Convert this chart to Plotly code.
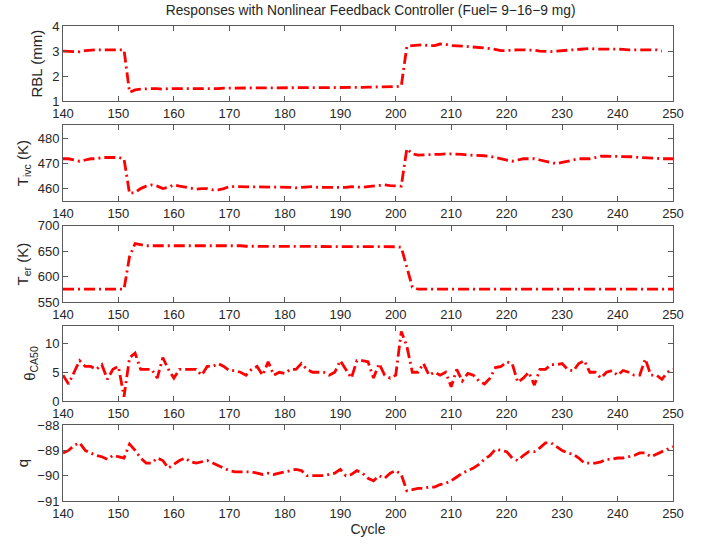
import plotly.graph_objects as go

cycles = list(range(140, 251))

rbl = [3.00, 3.00, 2.97, 2.97, 3.02, 3.05, 3.05, 3.05, 3.05, 3.05, 3.05, 3.05,
       1.35, 1.45, 1.48, 1.50, 1.50, 1.50, 1.48, 1.50, 1.50, 1.48, 1.47, 1.47, 1.47, 1.48, 1.48, 1.47,
       1.50, 1.52, 1.52, 1.52, 1.52, 1.52, 1.52, 1.53, 1.53, 1.53, 1.53, 1.53, 1.53, 1.53, 1.53, 1.53,
       1.54, 1.54, 1.55, 1.55, 1.55, 1.55, 1.55, 1.55, 1.55, 1.55, 1.55, 1.56, 1.56, 1.58, 1.58, 1.58, 1.58,
       1.60, 3.18, 3.22, 3.25, 3.25, 3.22, 3.22, 3.28, 3.27, 3.22, 3.22, 3.20, 3.18, 3.15, 3.15, 3.12,
       3.10, 3.05, 3.02, 3.02, 3.05, 3.05, 3.05, 3.05, 3.03, 3.00, 2.98, 2.98, 3.00, 3.02, 3.02, 3.05,
       3.07, 3.08, 3.10, 3.08, 3.08, 3.10, 3.08, 3.07, 3.07, 3.05, 3.05, 3.05, 3.05, 3.05, 3.05, 3.00]

tivc = [472.0, 472.0, 471.5, 471.0, 471.5, 472.0, 472.0, 472.5, 472.5, 472.5, 472.5, 472.0,
        458.0, 458.5, 460.0, 461.0, 461.5, 461.0, 460.0, 460.5, 461.5, 461.0, 460.5, 460.0, 459.8,
        460.0, 460.0, 459.5, 459.5, 460.0, 460.8, 460.8, 460.8, 460.5, 460.5, 460.5, 460.5, 460.8,
        460.5, 460.5, 460.5, 460.5, 460.3, 460.5, 460.8, 460.8, 460.5, 460.5, 460.5, 460.3, 460.5,
        460.5, 460.8, 460.5, 460.5, 460.8, 461.0, 461.2, 461.5, 461.2, 461.0,
        461.0, 476.0, 474.0, 473.5, 473.5, 473.5, 473.5, 473.8, 474.0, 474.0, 474.0, 473.8, 473.5,
        473.5, 473.5, 473.2, 473.0, 472.5, 472.0, 471.5, 471.0, 471.5, 472.0, 472.0, 472.0, 471.5,
        471.0, 470.5, 470.0, 470.5, 471.0, 471.5, 472.0, 472.0, 472.0, 472.5, 473.0, 473.0, 473.0,
        473.0, 472.8, 472.8, 472.8, 472.5, 472.5, 472.5, 472.2, 472.0, 472.0, 472.0, 472.0]

ter = [576, 576, 575, 575, 575, 575, 575, 576, 576, 576, 576, 576,
       640, 665, 663, 661, 661, 661, 661, 661, 661, 661, 662, 662, 662, 661, 661, 661, 662, 662,
       661, 661, 661, 660, 660, 660, 660, 660, 660, 660, 660, 660, 660, 660, 660, 660, 660, 660,
       660, 660, 660, 660, 660, 660, 660, 660, 660, 660, 660, 659, 659,
       658, 620, 580, 576, 576, 576, 576, 576, 576, 576, 576, 576, 576, 576, 576, 576, 576, 576,
       575, 575, 575, 575, 575, 575, 575, 575, 575, 575, 575, 575, 575, 575, 575, 575, 575, 575,
       576, 576, 576, 576, 576, 576, 576, 576, 576, 576, 576, 576, 576, 576, 576]

ca50 = [4.5, 3.0, 5.0, 7.0, 6.0, 6.0, 5.5, 6.3, 3.8, 5.5, 6.0, 0.8,
        7.5, 8.3, 5.5, 5.5, 5.5, 4.0, 7.5, 5.5, 4.0, 5.5, 5.5, 5.5, 5.5, 4.5, 6.0, 6.0, 6.5, 6.0,
        5.3, 5.3, 5.0, 4.5, 5.5, 6.0, 4.5, 6.8, 4.5, 5.0, 4.8, 5.5, 5.5, 6.5, 5.5, 5.0, 5.0, 5.0,
        4.5, 5.0, 7.0, 5.5, 4.0, 7.0, 7.0, 6.8, 4.0, 6.5, 4.5, 4.0, 4.5,
        12.0, 9.5, 5.0, 5.0, 6.5, 4.5, 5.0, 4.5, 5.0, 2.5, 5.5, 3.5, 4.8, 4.5, 3.5, 3.0, 4.0, 5.8,
        6.0, 6.8, 6.5, 3.3, 4.0, 5.0, 2.8, 5.5, 5.5, 6.3, 6.3, 6.5, 5.5, 5.2, 6.5, 7.0, 5.0, 5.0,
        4.0, 5.0, 5.3, 4.5, 5.3, 5.0, 4.5, 4.5, 7.3, 4.5, 4.5, 3.8, 5.0, 5.5]

q = [-89.10, -89.00, -88.80, -88.70, -89.00, -89.10, -89.20, -89.25, -89.35, -89.20, -89.25, -89.30,
     -88.75, -89.00, -89.30, -89.50, -89.50, -89.30, -89.40, -89.70, -89.55, -89.40, -89.30, -89.45,
     -89.50, -89.45, -89.40, -89.50, -89.60, -89.70, -89.80, -89.85, -89.85, -89.85, -89.85, -89.90,
     -89.95, -89.90, -89.95, -89.90, -89.85, -89.80, -89.75, -89.80, -90.00, -90.00, -90.00, -90.00,
     -89.95, -89.90, -89.75, -90.00, -89.95, -89.80, -89.90, -90.10, -90.20, -90.00, -90.10, -89.90,
     -89.80, -89.95, -90.60, -90.55, -90.50, -90.50, -90.45, -90.45, -90.35, -90.30, -90.20, -90.05,
     -89.90, -89.80, -89.70, -89.55, -89.35, -89.20, -88.95, -89.00, -89.05, -89.30, -89.40, -89.20,
     -89.05, -89.05, -88.90, -88.70, -88.70, -88.85, -89.00, -89.10, -89.15, -89.30, -89.50, -89.50,
     -89.50, -89.45, -89.35, -89.35, -89.30, -89.30, -89.25, -89.20, -89.10, -89.10, -89.25, -89.15,
     -89.05, -88.95, -88.85]

series = [rbl, tivc, ter, ca50, q]
y_titles = ["RBL (mm)", "T<sub>ivc</sub> (K)", "T<sub>er</sub> (K)", "θ<sub>CA50</sub>", "q"]
y_ranges = [[1, 4], [455, 485.5], [550, 700], [0, 13], [-91, -88]]
y_ticks = [[1, 2, 3, 4], [460, 470, 480], [550, 600, 650, 700], [0, 5, 10], [-91, -90, -89, -88]]
x_ticks = list(range(140, 251, 10))

domains = [[0.8418, 1.0], [0.6315, 0.7912], [0.4179, 0.5794], [0.2097, 0.3691], [0.0, 0.1597]]

fig = go.Figure()
fam = "Liberation Sans, Arial, sans-serif"
font = dict(family=fam, size=13, color="#262626")
tfont = dict(family=fam, size=15, color="#262626")
axcol = "#5a5a5a"

for i, ys in enumerate(series):
    n = i + 1
    fig.add_trace(go.Scatter(
        x=cycles, y=ys, mode="lines",
        line=dict(color="#ff0000", width=2.8, dash="11px,4px,2px,4px"),
        xaxis="x" if n == 1 else f"x{n}", yaxis="y" if n == 1 else f"y{n}",
        showlegend=False, hoverinfo="skip"))
    xa = dict(domain=[0, 1], range=[140, 250], tickvals=x_ticks, ticks="inside", ticklen=5,
              tickcolor=axcol, showline=True, linecolor=axcol, linewidth=1, mirror="ticks",
              showgrid=False, zeroline=False, tickfont=font,
              anchor="y" if n == 1 else f"y{n}")
    if n == 5:
        xa["title"] = dict(text="Cycle", font=dict(family=fam, size=14, color="#262626"), standoff=2)
    ya = dict(domain=domains[i], range=y_ranges[i], tickvals=y_ticks[i], ticks="inside", ticklen=5,
              tickcolor=axcol, showline=True, linecolor=axcol, linewidth=1, mirror="ticks",
              showgrid=False, zeroline=False, tickfont=font,
              title=dict(text=y_titles[i], font=tfont, standoff=5),
              anchor="x" if n == 1 else f"x{n}")
    fig.update_layout(**{("xaxis" if n == 1 else f"xaxis{n}"): xa,
                         ("yaxis" if n == 1 else f"yaxis{n}"): ya})

fig.update_layout(
    width=702, height=544,
    margin=dict(l=63, r=29, t=26, b=38),
    paper_bgcolor="white", plot_bgcolor="white",
    title=dict(text="Responses with Nonlinear Feedback Controller (Fuel= 9−16−9 mg)",
               x=0.528, xanchor="center", y=0.982, yanchor="middle",
               font=dict(family=fam, size=13.8, color="#262626")),
)

fig.write_html("out.html")
